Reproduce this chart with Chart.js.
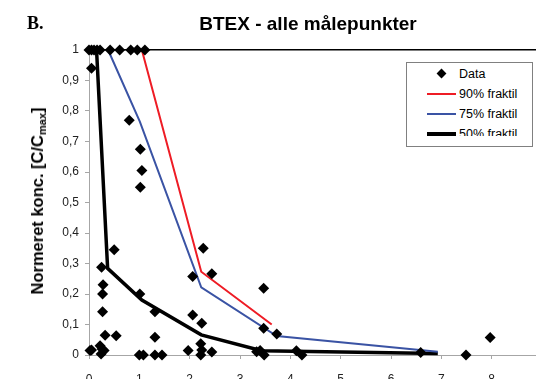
<!DOCTYPE html>
<html>
<head>
<meta charset="utf-8">
<script src="https://cdn.jsdelivr.net/npm/chart.js@4/dist/chart.umd.min.js"></script>
<style>
  html, body { margin: 0; padding: 0; overflow: hidden; background: #fff; }
  body { width: 536px; height: 379px; position: relative; font-family: 'Liberation Sans', Arial, sans-serif; }
  #wrap { position: absolute; left: 0; top: 0; width: 560px; height: 400px; }
  .lbl { position: absolute; white-space: nowrap; color: #000; }
  #panel { left: 27px; top: 13px; font: bold 18px 'Liberation Serif', 'Times New Roman', serif; }
  #title { left: 308px; top: 24px; transform: translate(-50%, -50%); font: bold 19px 'Liberation Sans', Arial, sans-serif; }
  #ytitle { left: 38px; top: 201px; transform: translate(-50%, -50%) rotate(-90deg); font: bold 16.5px 'Liberation Sans', Arial, sans-serif; }
  #ytitle sub { font-size: 11px; vertical-align: -3px; }
  #legend { position: absolute; left: 406px; top: 62px; width: 125px; height: 83px; border: 1px solid #808080; background: #fff; }
  #legend .clip { position: absolute; left: 0; top: 0; width: 125px; height: 73px; overflow: hidden; }
  .row { position: absolute; left: 0; height: 16px; width: 125px; }
  .row span { position: absolute; left: 52px; top: 0; font: 12.5px 'Liberation Sans', Arial, sans-serif; line-height: 16px; }
  .row i { position: absolute; left: 20px; width: 29px; }
  .row b { position: absolute; left: 31px; top: 4px; width: 7px; height: 7px; background: #000; transform: rotate(45deg); }
</style>
</head>
<body>
<div id="wrap"><canvas id="chart" width="560" height="400"></canvas></div>
<div class="lbl" id="panel">B.</div>
<div class="lbl" id="title">BTEX - alle målepunkter</div>
<div class="lbl" id="ytitle">Normeret konc. [C/C<sub>max</sub>]</div>
<div id="legend"><div class="clip">
  <div class="row" style="top:3px"><b></b><span>Data</span></div>
  <div class="row" style="top:23px"><i style="top:7px;height:2px;background:#ee1c25"></i><span>90% fraktil</span></div>
  <div class="row" style="top:43px"><i style="top:7px;height:2px;background:#3a53a4"></i><span>75% fraktil</span></div>
  <div class="row" style="top:63px"><i style="top:6px;height:4px;background:#000"></i><span>50% fraktil</span></div>
</div></div>
<script>
// measured points (x, normalised concentration)
const dataX = [0.00, 0.05, 0.10, 0.16, 0.22, 0.42, 0.61, 0.83, 0.96, 1.11,
  0.05, 0.80, 1.02, 1.05, 1.02, 0.50, 0.25, 0.28, 0.27, 0.27,
  0.32, 0.54, 0.02, 0.05, 0.22, 0.26, 0.24, 0.30, 1.01, 1.31,
  1.31, 1.00, 1.08, 1.31, 1.45, 1.97, 2.06, 2.06, 2.24, 2.27,
  2.44, 2.22, 2.24, 2.22, 2.44, 3.47, 3.47, 3.73, 3.33, 3.40,
  3.48, 4.12, 4.23, 6.59, 7.49, 7.97];
const dataY = [1.00, 1.00, 1.00, 1.00, 1.00, 1.00, 1.00, 1.00, 1.00, 1.00,
  0.94, 0.77, 0.675, 0.605, 0.55, 0.345, 0.288, 0.23, 0.20, 0.142,
  0.065, 0.063, 0.015, 0.016, 0.03, 0.02, 0.003, 0.015, 0.20, 0.142,
  0.058, 0.0, 0.0, 0.0, 0.0, 0.015, 0.257, 0.131, 0.104, 0.35,
  0.266, 0.037, 0.016, 0.0, 0.010, 0.219, 0.088, 0.069, 0.011, 0.015,
  0.0, 0.014, 0.0, 0.008, 0.0, 0.057];

// fractile curves
const p90X = [1.05, 2.23, 3.63];
const p90Y = [1.00, 0.273, 0.10];
const p75X = [0.38, 1.01, 2.23, 3.73, 6.93];
const p75Y = [1.00, 0.765, 0.222, 0.062, 0.011];
const p50X = [0.15, 0.37, 1.05, 2.23, 3.43, 6.93];
const p50Y = [1.00, 0.284, 0.18, 0.066, 0.014, 0.005];

const xTicks = [0, 1, 2, 3, 4, 5, 6, 7, 8, 9];
const yTicks = [0, 0.1, 0.2, 0.3, 0.4, 0.5, 0.6, 0.7, 0.8, 0.9, 1];

const pts = (xs, ys) => xs.map((x, i) => ({ x: x, y: ys[i] }));
const axisGrey = '#a6a6a6';

new Chart(document.getElementById('chart'), {
  type: 'scatter',
  data: {
    datasets: [
      { label: 'Data', data: pts(dataX, dataY), pointStyle: 'rectRot', pointRadius: 5.5,
        backgroundColor: '#000', borderColor: '#000', borderWidth: 0, showLine: false, clip: false },
      { label: '90% fraktil', data: pts(p90X, p90Y), showLine: true, borderColor: '#ee1c25',
        borderWidth: 2, pointRadius: 0, clip: false },
      { label: '75% fraktil', data: pts(p75X, p75Y), showLine: true, borderColor: '#3a53a4',
        borderWidth: 2, pointRadius: 0, clip: false },
      { label: '50% fraktil', data: pts(p50X, p50Y), showLine: true, borderColor: '#000',
        borderWidth: 3.5, pointRadius: 0, clip: false }
    ]
  },
  options: {
    responsive: false,
    animation: false,
    devicePixelRatio: 1,
    layout: { padding: { top: 50, right: 18, left: 0, bottom: 0 } },
    plugins: { legend: { display: false }, tooltip: { enabled: false }, title: { display: false } },
    scales: {
      x: {
        type: 'linear', min: 0, max: 9,
        afterBuildTicks: s => { s.ticks = xTicks.map(v => ({ value: v })); },
        afterFit: s => { s.height = 45; s.paddingLeft = 0; s.paddingRight = 0; },
        border: { color: axisGrey, width: 1 },
        grid: { drawOnChartArea: false, tickColor: axisGrey, tickLength: 4 },
        ticks: { color: '#222', padding: 13, font: { family: "'Liberation Sans', Arial", size: 12 } }
      },
      y: {
        type: 'linear', min: 0, max: 1,
        afterBuildTicks: s => { s.ticks = yTicks.map(v => ({ value: v })); },
        afterFit: s => { s.width = 89; },
        border: { color: axisGrey, width: 1 },
        grid: {
          color: c => (c.tick && c.tick.value === 1) ? '#000' : 'rgba(0,0,0,0)',
          lineWidth: c => (c.tick && c.tick.value === 1) ? 1.5 : 1,
          tickColor: axisGrey, tickLength: 4
        },
        ticks: {
          color: '#222', padding: 6, font: { family: "'Liberation Sans', Arial", size: 12 },
          callback: v => String(Math.round(v * 10) / 10).replace('.', ',')
        }
      }
    }
  }
});
</script>
</body>
</html>
